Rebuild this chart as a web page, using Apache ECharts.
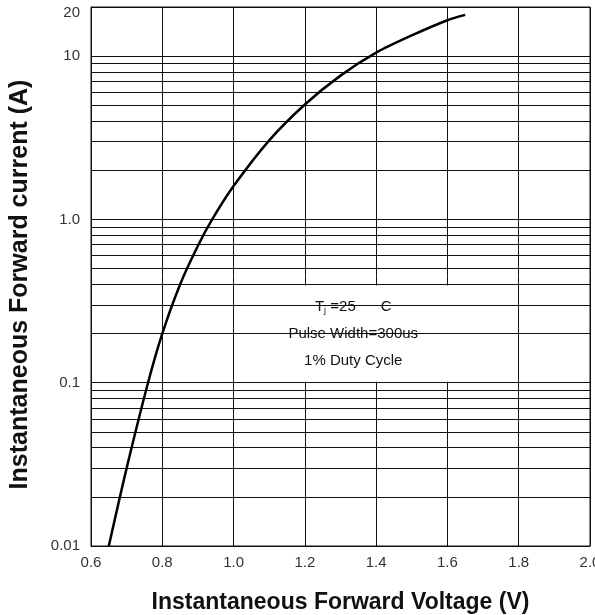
<!DOCTYPE html>
<html>
<head>
<meta charset="utf-8">
<script src="https://cdn.jsdelivr.net/npm/echarts@6/dist/echarts.min.js"></script>
<style>html,body{margin:0;padding:0;background:#fff}#c{width:595px;height:615px}</style>
</head>
<body>
<div id="c"></div>
<script>
// Forward voltage (V) and forward current (A)
const voltage = [0.65, 0.70, 0.76, 0.80, 0.85, 0.90, 0.94, 1.0, 1.1, 1.2, 1.3, 1.4, 1.5, 1.6, 1.65];
const current = [0.01, 0.03, 0.1, 0.2, 0.4, 0.69, 1.0, 1.6, 3.05, 5.06, 7.6, 10.5, 13.4, 16.6, 17.9];
// Minor log grid values
const minorGrid = [0.02,0.03,0.04,0.05,0.06,0.07,0.08,0.09,0.2,0.3,0.4,0.5,0.6,0.7,0.8,0.9,2,3,4,5,6,7,8,9];
// Annotation box (data coordinates): [xMin, yMin, xMax, yMax]
const noteBox = [1.0, 0.1, 1.68, 0.4];
const noteLines = ['T{s|j} =25      C', 'Pulse Width=300us', '1% Duty Cycle'];
const yLabels = {'0.01':'0.01','0.1':'0.1','1':'1.0','10':'10','20':'{top|20}'};

const chart = echarts.init(document.getElementById('c'), null, {renderer:'canvas'});
const font = 'Liberation Sans, Arial, sans-serif';
chart.setOption({
  animation: false,
  grid: {left: 91, right: 5, top: 7, bottom: 69, containLabel: false, outerBoundsMode: 'none',
    show: true, borderColor: '#111', borderWidth: 1},
  xAxis: {
    type: 'value', min: 0.6, max: 2.0, interval: 0.2,
    name: 'Instantaneous Forward Voltage (V)', nameLocation: 'middle', nameGap: 45,
    nameTextStyle: {fontFamily: font, fontWeight: 'bold', fontSize: 23, color: '#111'},
    axisLine: {show: true, lineStyle: {color: '#111'}}, axisTick: {show: false},
    axisLabel: {fontFamily: font, fontSize: 15, color: '#333', margin: 9, formatter: v => v.toFixed(1)},
    splitLine: {show: true, lineStyle: {color: '#111', width: 1}}
  },
  yAxis: {
    type: 'log', logBase: 10, min: 0.01, max: 20,
    name: 'Instantaneous Forward current (A)', nameLocation: 'middle', nameGap: 58, nameRotate: 90,
    nameTextStyle: {fontFamily: font, fontWeight: 'bold', fontSize: 25, color: '#111', padding: [0, 16, 0, 0]},
    axisLine: {show: true, lineStyle: {color: '#111'}}, axisTick: {show: false},
    axisLabel: {fontFamily: font, fontSize: 15, color: '#333', margin: 11,
      rich: {top: {fontFamily: font, fontSize: 15, color: '#333', padding: [12, 0, 0, 0]}},
      formatter: v => { const k = String(parseFloat(v.toPrecision(6))); return yLabels[k] !== undefined ? yLabels[k] : ''; }},
    splitLine: {show: true, lineStyle: {color: '#111', width: 1}}
  },
  series: [
    {
      type: 'line', data: [], z: 2, silent: true,
      markLine: {silent: true, symbol: 'none', animation: false, label: {show: false},
        lineStyle: {color: '#111', width: 1, type: 'solid', opacity: 1},
        emphasis: {disabled: true},
        data: minorGrid.map(v => ({yAxis: v}))}
    },
    {
      type: 'custom', z: 4, silent: true, clip: false,
      data: [noteBox],
      renderItem: function (params, api) {
        const p1 = api.coord([api.value(0), api.value(3)]);
        const p2 = api.coord([api.value(2), api.value(1)]);
        const x = p1[0] + 1, y = p1[1] + 1, w = p2[0] - p1[0] - 1, h = p2[1] - p1[1] - 2;
        return {
          type: 'group',
          children: [
            {type: 'rect', shape: {x: x, y: y, width: w, height: h}, style: {fill: '#fff', stroke: null}},
            {type: 'text', x: x + w / 2 - 2, y: y + h / 2,
              style: {text: noteLines.join('\n'), fill: '#111', font: '15px ' + font, lineHeight: 27,
                align: 'center', verticalAlign: 'middle',
                rich: {s: {fontSize: 9, fontFamily: font, fill: '#111', padding: [8, 0, 0, 0]}}}}
          ]
        };
      }
    },
    {
      type: 'line', z: 5, smooth: 0.3, showSymbol: false, symbol: 'none',
      lineStyle: {color: '#000', width: 2.5},
      data: voltage.map((v, i) => [v, current[i]])
    }
  ]
});
</script>
</body>
</html>
